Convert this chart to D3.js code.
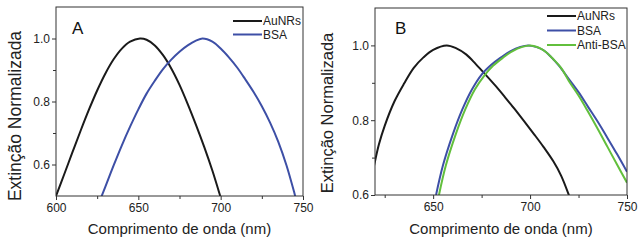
<!DOCTYPE html>
<html>
<head>
<meta charset="utf-8">
<script src="https://cdn.jsdelivr.net/npm/d3@7"></script>
<style>
  body { margin: 0; background: #fff; }
  svg { display: block; font-family: "Liberation Sans", Arial, sans-serif; }
</style>
</head>
<body>
<script>
// Panel A data (wavelength nm, normalized extinction)
var aAuNRs = [[600,0.500],[605,0.569],[610,0.639],[615,0.708],[620,0.774],[625,0.835],[630,0.889],[635,0.934],[640,0.968],[645,0.990],[651,1.0],[655,0.996],[660,0.978],[665,0.947],[670,0.905],[675,0.853],[680,0.792],[685,0.726],[690,0.656],[695,0.580],[700,0.495],[702,0.46]];
var aBSA = [[627,0.49],[630,0.53],[635,0.597],[640,0.661],[645,0.72],[650,0.775],[655,0.825],[660,0.866],[665,0.903],[670,0.933],[675,0.958],[680,0.978],[685,0.993],[689,1.0],[695,0.99],[700,0.968],[705,0.94],[710,0.908],[715,0.87],[720,0.83],[725,0.785],[730,0.733],[735,0.672],[740,0.597],[745,0.505],[746,0.485]];

// Panel B data
var bAuNRs = [[618,0.64],[620,0.69],[622,0.735],[625,0.785],[630,0.85],[635,0.898],[640,0.94],[645,0.968],[650,0.988],[657,1.0],[662,0.992],[667,0.976],[672,0.95],[677,0.922],[682,0.893],[687,0.862],[692,0.83],[697,0.797],[702,0.763],[707,0.728],[712,0.69],[716,0.652],[720,0.60],[722,0.57]];
var bBSA = [[651.5,0.60],[655,0.678],[660,0.76],[665,0.828],[670,0.882],[675,0.922],[680,0.948],[685,0.968],[690,0.985],[695,0.996],[699,1.0],[703,0.996],[707,0.987],[711,0.968],[715,0.945],[720,0.91],[725,0.875],[730,0.835],[735,0.795],[740,0.752],[745,0.708],[750,0.662]];
var bAnti = [[653,0.60],[656.5,0.678],[661.5,0.76],[666.5,0.828],[671.5,0.882],[676.5,0.92],[681,0.946],[686,0.967],[691,0.985],[696,0.996],[700,1.0],[704,0.995],[708,0.983],[712,0.963],[716,0.94],[720,0.905],[725,0.866],[730,0.822],[735,0.776],[740,0.728],[745,0.68],[750,0.633]];

var xTicksA = [600, 650, 700, 750], xMinorA = [625, 675, 725];
var xTicksB = [650, 700, 750], xMinorB = [625, 675, 725];
var yTicks = [0.6, 0.8, 1.0], yMinor = [0.7, 0.9];

var colBlack = "#1a1a1a", colBlue = "#3d4fa6", colGreen = "#62bf3c";

var svg = d3.select("body").append("svg")
  .attr("width", 640)
  .attr("height", 241);

function drawPanel(cfg) {
  var g = svg.append("g");
  var x = d3.scaleLinear().domain(cfg.xDomain).range([cfg.left, cfg.right]);
  var y = d3.scaleLinear().domain(cfg.yDomain).range([cfg.bottom, cfg.top]);

  // clip so curves stay inside the frame
  svg.append("clipPath").attr("id", cfg.id)
    .append("rect")
    .attr("x", cfg.left).attr("y", cfg.top)
    .attr("width", cfg.right - cfg.left).attr("height", cfg.bottom - cfg.top);

  var line = d3.line()
    .x(d => x(d[0]))
    .y(d => y(d[1]))
    .curve(d3.curveCatmullRom);

  cfg.series.forEach(function(s) {
    g.append("path")
      .datum(s.data)
      .attr("d", line)
      .attr("fill", "none")
      .attr("stroke", s.color)
      .attr("stroke-width", 2)
      .attr("clip-path", "url(#" + cfg.id + ")");
  });

  // axes
  g.append("g")
    .attr("transform", "translate(0," + cfg.bottom + ")")
    .call(d3.axisBottom(x).tickValues(cfg.xTicks).tickSize(4).tickPadding(3).tickFormat(d3.format("d")));
  g.append("g")
    .attr("transform", "translate(0," + cfg.bottom + ")")
    .call(d3.axisBottom(x).tickValues(cfg.xMinor).tickSize(3).tickFormat(""));
  g.append("g")
    .attr("transform", "translate(" + cfg.left + ",0)")
    .call(d3.axisLeft(y).tickValues(yTicks).tickSize(4).tickPadding(2).tickFormat(d3.format(".1f")));
  g.append("g")
    .attr("transform", "translate(" + cfg.left + ",0)")
    .call(d3.axisLeft(y).tickValues(yMinor).tickSize(3).tickFormat(""));

  g.selectAll(".domain").remove();
  g.selectAll(".tick line").attr("stroke", "#333");
  g.selectAll(".tick text")
    .attr("font-family", "Liberation Sans, Arial, sans-serif")
    .attr("font-size", 12)
    .attr("fill", "#222");

  // frame
  g.append("rect")
    .attr("x", cfg.left).attr("y", cfg.top)
    .attr("width", cfg.right - cfg.left).attr("height", cfg.bottom - cfg.top)
    .attr("fill", "none")
    .attr("stroke", "#333")
    .attr("stroke-width", 1);

  // panel letter
  g.append("text")
    .attr("x", cfg.letterX).attr("y", 34)
    .attr("font-size", 17)
    .attr("fill", "#111")
    .text(cfg.letter);

  // legend
  cfg.series.forEach(function(s, i) {
    var ly = cfg.legY + i * cfg.legStep;
    g.append("line")
      .attr("x1", cfg.legX).attr("x2", cfg.legX + 29)
      .attr("y1", ly).attr("y2", ly)
      .attr("stroke", s.color).attr("stroke-width", 2);
    g.append("text")
      .attr("x", cfg.legX + 30).attr("y", ly + 4)
      .attr("font-size", 12)
      .attr("fill", "#222")
      .text(s.name);
  });

  // axis titles
  g.append("text")
    .attr("x", (cfg.left + cfg.right) / 2).attr("y", 234)
    .attr("text-anchor", "middle")
    .attr("font-size", 15)
    .attr("fill", "#222")
    .text("Comprimento de onda (nm)");
  g.append("text")
    .attr("transform", "translate(" + cfg.yTitleX + "," + cfg.yTitleY + ") rotate(-90)")
    .attr("text-anchor", "middle")
    .attr("font-size", cfg.yTitleSize)
    .attr("fill", "#222")
    .text("Extinção Normalizada");
}

drawPanel({
  id: "clipA", letter: "A", letterX: 72,
  left: 56, right: 303, top: 7, bottom: 196,
  xDomain: [600, 750], yDomain: [0.5, 1.1],
  xTicks: xTicksA, xMinor: xMinorA,
  legX: 233, legY: 21, legStep: 13.5,
  yTitleX: 21, yTitleY: 116, yTitleSize: 17.5,
  series: [
    {name: "AuNRs", color: colBlack, data: aAuNRs},
    {name: "BSA", color: colBlue, data: aBSA}
  ]
});

drawPanel({
  id: "clipB", letter: "B", letterX: 395,
  left: 375, right: 627, top: 8, bottom: 195,
  xDomain: [620, 750], yDomain: [0.6, 1.1],
  xTicks: xTicksB, xMinor: xMinorB,
  legX: 547, legY: 16, legStep: 14.5,
  yTitleX: 333, yTitleY: 113, yTitleSize: 16.5,
  series: [
    {name: "AuNRs", color: colBlack, data: bAuNRs},
    {name: "BSA", color: colBlue, data: bBSA},
    {name: "Anti-BSA", color: colGreen, data: bAnti}
  ]
});
</script>
</body>
</html>
